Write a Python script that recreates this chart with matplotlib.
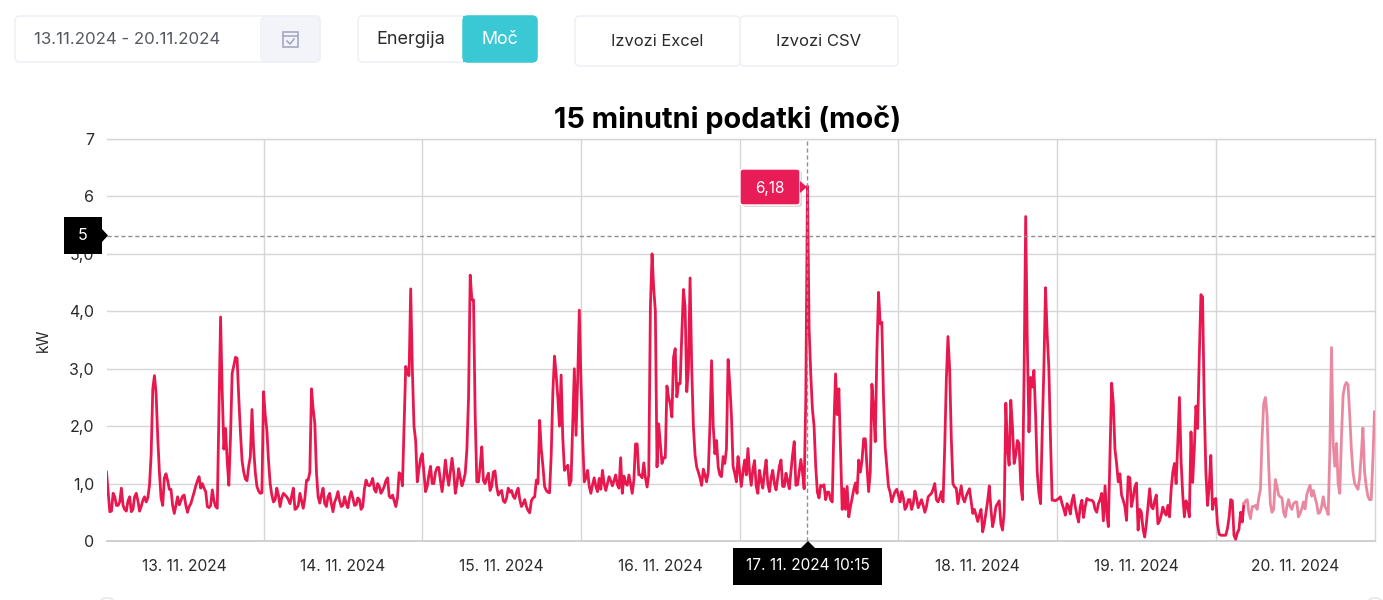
import numpy as np
import matplotlib
matplotlib.use('Agg')
import matplotlib.pyplot as plt
from matplotlib.patches import FancyBboxPatch, Rectangle, Polygon

plt.rcParams['font.family'] = ['Inter', 'DejaVu Sans']

# 15 minute readings (kW), one list per day
day_13 = [1.2,.85,.51,.52,.83,.77,.62,.62,.68,.92,.62,.55,.52,.7,.77,.51,.55,.77,.83,.7,.52,.6,.71,.77,.68,.75,.97,1.5,
          2.65,2.88,2.57,1.8,1.2,.75,.62,1.1,1.17,1.05,.9,.9,.62,.48,.62,.77,.63,.7,.78,.8,.62,.5,.6,.65,.75,.85,.96,1.05,
          1.12,.92,1.0,.92,.86,.6,.58,.62,.89,.7,.6,.57,2.2,3.9,2.6,1.6,1.96,1.4,.97,1.8,2.92,3.05,3.2,3.18,2.5,1.9,1.4,1.2,
          1.08,1.05,1.3,1.47,2.29,1.6,1.2,.95,.87,.83,.84,2.6]
day_14 = [2.2,1.93,1.4,1.0,.8,.68,.72,.92,.8,.6,.75,.83,.8,.77,.72,.65,.78,.92,.55,.57,.62,.83,.7,.57,.75,1.06,1.06,1.2,
          2.65,2.3,2.05,1.2,.77,.66,.8,.92,.65,.6,.77,.83,.65,.51,.68,.75,.86,.7,.6,.62,.77,.65,.58,.75,.86,.75,.62,.63,.75,
          .72,.55,.6,.9,1.06,.98,.96,1.0,1.09,.9,.85,1.0,.95,.83,.88,.95,1.05,1.1,.78,.75,.8,.7,.6,.75,1.19,1.15,.96,2.0,
          3.04,2.92,2.88,4.39,3.0,2.0,1.75,1.03,1.25,1.44]
day_15 = [1.52,1.2,.86,.95,1.15,1.3,1.0,1.0,1.2,1.28,1.28,1.05,.86,1.1,1.41,1.15,.97,1.2,1.44,1.2,.83,1.0,1.26,1.1,.96,
          1.05,1.18,1.6,2.5,4.63,4.2,4.2,2.2,1.03,1.03,1.3,1.64,1.05,1.0,1.1,1.18,.88,.95,1.2,1.22,.95,.8,.85,.88,.7,.67,.75,
          .92,.85,.88,.78,.74,.85,.92,.72,.6,.65,.72,.6,.53,.49,.7,.75,.77,1.06,1.0,2.1,1.6,1.3,.95,.88,.85,.84,1.5,2.6,3.22,
          2.9,2.5,2.0,2.89,1.8,1.23,1.28,1.32,.97,1.05,2.0,3.0,1.84,2.8]
day_16 = [4.02,2.8,1.8,1.03,1.1,1.23,.95,.83,.98,1.1,.95,.86,1.09,.9,1.23,1.0,.88,1.0,1.12,1.05,.96,1.05,1.15,.98,.92,1.45,
          .83,1.13,1.0,.97,1.15,1.0,.83,1.06,1.69,1.69,1.15,1.15,1.1,1.36,1.1,.94,1.15,4.07,5.0,4.4,4.0,1.29,2.04,1.7,1.35,
          1.45,1.45,2.7,2.5,2.39,2.16,3.2,3.35,2.51,2.74,2.74,3.6,4.38,4.07,2.6,3.0,4.58,3.0,2.0,1.5,1.29,1.2,1.1,.97,1.25,
          1.15,1.03,1.2,2.0,3.14,2.0,1.52,1.75,1.29,1.15,1.12,1.47,1.35,1.6,3.16,2.74,2.2,1.3,1.18,1.03]
day_17 = [1.47,1.2,.95,1.2,1.41,1.15,1.61,1.2,.97,1.25,1.4,.95,.83,1.23,1.05,.92,1.2,1.41,1.0,.86,1.1,1.23,1.0,.89,1.1,1.3,
          1.41,.95,.95,1.18,1.05,.91,1.2,1.5,1.73,.97,.98,1.2,1.42,1.2,.91,2.5,6.18,3.7,2.9,2.3,2.0,1.3,.85,.75,.97,.95,.98,
          .72,.85,.85,.72,.68,2.0,2.91,2.2,2.65,1.6,.55,.91,.55,.95,.42,.6,.74,.9,1.01,.83,1.41,1.2,1.4,1.78,1.78,1.3,.86,1.2,
          2.73,2.3,1.73,3.3,4.33,3.78,3.81,2.5,1.64,1.3,.95,.85,.68,.78,.86]
day_18 = [.9,.8,.68,.86,.75,.55,.6,.72,.72,.55,.65,.87,.75,.58,.65,.72,.62,.5,.6,.77,.8,.83,.9,1.0,.72,.68,.75,.86,.68,1.6,
          2.8,3.56,3.0,1.8,1.0,.94,.92,.65,.8,.96,.75,.68,.78,.85,.91,.7,.48,.55,.45,.34,.45,.55,.16,.3,.5,.7,.96,.55,.25,.4,
          .6,.65,.7,.3,.19,.5,2.4,1.6,1.32,2.45,2.0,1.35,1.5,1.75,1.7,1.0,.72,2.8,5.65,3.4,1.9,2.85,2.68,2.97,2.2,1.2,.83,.65,
          1.9,3.0,4.41,3.6,3.03,1.8,.71,.71]
day_19 = [.7,.72,.74,.77,.65,.56,.45,.65,.6,.47,.7,.8,.6,.45,.33,.6,.71,.41,.6,.74,.72,.71,.71,.68,.55,.5,.65,.72,.83,.35,
          .96,.5,.25,1.5,2.75,2.4,1.6,1.35,1.03,1.17,.8,.71,.6,.36,1.12,1.1,.6,.75,.94,1.01,.19,.55,.5,.2,.07,.3,.6,.91,.6,.56,
          .7,.8,.3,.35,.45,.59,.5,.45,.62,.42,.9,1.2,1.35,1.0,1.7,2.5,1.4,.8,.42,.7,.6,.42,1.9,1.02,1.6,2.35,1.96,3.2,4.29,
          4.25,2.4,1.2,.62,.95,1.49,.55]
day_20 = [.72,.74,.3,.12,.1,.1,.1,.1,.21,.4,.72,.7,.1,.03,.14,.2,.5,.33,.65,.7,.72,.5,.39,.6,.6,.62,.55,.75,.9,1.8,2.4,2.5,
          2.2,1.3,.65,.5,.55,1.07,.95,.8,.77,.75,.5,.42,.6,.72,.6,.55,.65,.68,.68,.42,.48,.56,.68,.56,.8,.9,.97,.78,.88,.76,
          .65,.48,.5,.6,.77,.6,.55,.46,1.6,3.37,1.7,1.3,1.7,1.0,.83,1.8,2.54,2.7,2.76,2.72,2.2,1.6,1.2,1.0,.95,.9,1.1,1.5,1.97,
          1.2,.95,.78,.72,.72,1.4,2.25]

# the label of 17. 11. sits under the crosshair tag in the picture
day_labels = ['13. 11. 2024', '14. 11. 2024', '15. 11. 2024', '16. 11. 2024',
              '', '18. 11. 2024', '19. 11. 2024', '20. 11. 2024']
y_values = [0, 1, 2, 3, 4, 5, 6, 7]
y_labels = ['0', '1,0', '2,0', '3,0', '4,0', '5,0', '6', '7']
hover_index = 424   # 17. 11. 10:15
hover_label = '17. 11. 2024 10:15'
hover_value = '6,18'
cross_y = 5.31
fade_index = 688    # the last part of the line is drawn pale

power = np.concatenate([day_13, day_14, day_15, day_16, day_17, day_18, day_19, day_20])
days = (np.arange(len(power)) + 1) / 96

RED = '#e8184f'
PALE = '#e988a0'
GRID = '#d6d6d6'
BORDER = '#eef0f6'
TEXT = '#2a2a2a'
W, H = 1383, 600

fig = plt.figure(figsize=(W / 100, H / 100), dpi=100)

# chart
ax = fig.add_axes([106.5 / W, 1 - 541 / H, (1374.5 - 106.5) / W, (541 - 139) / H])
ax.plot(days[:fade_index + 1], power[:fade_index + 1], color=RED, lw=2, solid_joinstyle='round', zorder=4)
ax.plot(days[fade_index:], power[fade_index:], color=PALE, lw=2, solid_joinstyle='round', zorder=4)
ax.set_xlim(days[0], days[-1])
ax.set_ylim(0, 7)
ax.set_yticks(y_values)
ax.set_yticklabels(y_labels, fontsize=11.5, color=TEXT)
ax.set_xticks(np.arange(1, 8))
ax.set_xticklabels([])
ax.set_xticks(np.arange(8) + 0.5, day_labels, minor=True, fontsize=11.2, color=TEXT)
ax.tick_params(axis='both', which='both', length=0)
ax.tick_params(axis='y', pad=9)
ax.tick_params(axis='x', which='minor', pad=13)
ax.grid(True, color=GRID, lw=1, zorder=1)
ax.set_axisbelow(True)
for side in ['top', 'right']:
    ax.spines[side].set_color(GRID)
    ax.spines[side].set_linewidth(1)
ax.spines['left'].set_visible(False)
ax.spines['bottom'].set_color('#cfcfcf')
ax.spines['bottom'].set_linewidth(1.4)
ax.set_ylabel('kW', fontsize=11, color=TEXT, labelpad=13)

# crosshair
ax.axvline(days[hover_index], color='#8f8f8f', lw=1, ls=(0, (3, 2)), zorder=5)
ax.axhline(cross_y, color='#8f8f8f', lw=1, ls=(0, (3, 2)), zorder=5)

# overlay in pixel coordinates for the page controls and tags
ui = fig.add_axes([0, 0, 1, 1], zorder=10)
ui.set_xlim(0, W)
ui.set_ylim(H, 0)
ui.axis('off')


def box(x0, y0, x1, y1, fc='white', ec=BORDER, r=5, lw=1.1, z=2):
    ui.add_patch(FancyBboxPatch((x0 + r, y0 + r), x1 - x0 - 2 * r, y1 - y0 - 2 * r,
                                boxstyle='round,pad=%d,rounding_size=%d' % (r, r),
                                fc=fc, ec=ec, lw=lw, zorder=z))


# date range
box(15, 16, 320, 62)
box(261, 16, 320, 62, fc='#f3f4f9')
ui.add_patch(Rectangle((261, 17), 8, 44, fc='#f3f4f9', ec='none', zorder=3))
ui.text(34, 39, '13.11.2024 - 20.11.2024', fontsize=12.1, color='#555a60', va='center', zorder=4)
ui.add_patch(Rectangle((283, 32), 15, 15, fc='none', ec='#a5a6c4', lw=1.2, zorder=4))
ui.plot([283, 298], [36, 36], color='#a5a6c4', lw=1.2, zorder=4)
ui.plot([287, 290, 294], [41, 44, 39], color='#a5a6c4', lw=1.2, zorder=4)

# energy / power switch
box(358, 16, 537, 62)
box(463, 16, 537, 62, fc='#3bc8d5', ec='#3bc8d5')
ui.add_patch(Rectangle((463, 16), 8, 46, fc='#3bc8d5', ec='none', zorder=3))
ui.text(411, 39, 'Energija', fontsize=13, color=TEXT, ha='center', va='center', zorder=4)
ui.text(500, 39, 'Moč', fontsize=12.8, color='white', ha='center', va='center', zorder=4)

# export buttons
box(575, 16, 740, 66)
box(740, 16, 898, 66)
ui.text(657, 41, 'Izvozi Excel', fontsize=11.9, color=TEXT, ha='center', va='center', zorder=4)
ui.text(819, 41, 'Izvozi CSV', fontsize=12, color=TEXT, ha='center', va='center', zorder=4)

ui.text(728, 120, '15 minutni podatki (moč)', fontsize=20.8, fontweight='bold', color='black',
        ha='center', va='center', zorder=4)

# value tooltip
box(742, 171, 802, 207, fc='#d9d9d9', ec='none', r=3, z=3)
box(740, 169, 800, 205, fc='#e81c56', ec='white', r=3, lw=1, z=4)
ui.add_patch(Polygon([[800, 181], [807, 187], [800, 193]], fc='#e81c56', ec='none', zorder=5))
ui.text(769.5, 188, hover_value, fontsize=11, color='white', ha='center', va='center', zorder=6)

# crosshair tags
ui.add_patch(Rectangle((64, 217), 38, 37, fc='black', ec='none', zorder=4))
ui.add_patch(Polygon([[102, 229], [108, 235.5], [102, 242]], fc='black', ec='none', zorder=4))
ui.text(83, 236, '5', fontsize=11.5, color='white', ha='center', va='center', zorder=5)
ui.add_patch(Rectangle((733, 548), 149, 37, fc='black', ec='none', zorder=4))
ui.add_patch(Polygon([[801, 548], [808, 541], [815, 548]], fc='black', ec='none', zorder=4))
ui.text(807.5, 566, hover_label, fontsize=11.1, color='white', ha='center', va='center', zorder=5)

# tops of the next page block, only just in view at the bottom edge
box(100, 598, 114, 620, ec='#e6e6e6', r=6)
box(1368, 598, 1382, 620, ec='#e6e6e6', r=6)

fig.savefig('out.png', dpi=100, facecolor='white')
